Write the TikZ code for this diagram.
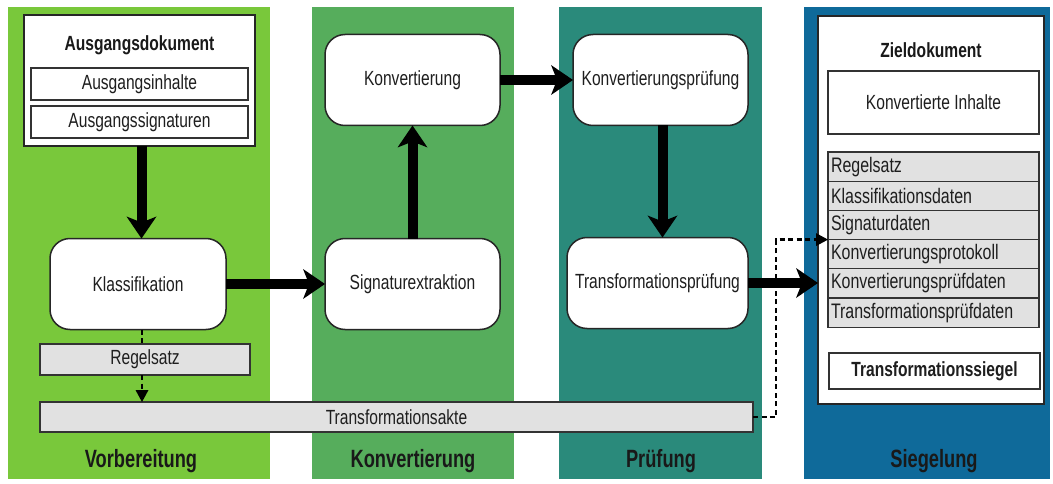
\documentclass[tikz,border=0pt]{standalone}
\usepackage{fontspec}
\setmainfont[FakeStretch=0.76]{Liberation Sans}
\newfontfamily\lanefont[FakeStretch=0.73]{Liberation Sans}
\usetikzlibrary{arrows.meta}

\definecolor{laneprep}{HTML}{79C83B}
\definecolor{laneconv}{HTML}{56AD5C}
\definecolor{lanecheck}{HTML}{2A8A7B}
\definecolor{laneseal}{HTML}{0F6A9A}
\definecolor{ink}{HTML}{1E1E1E}
\definecolor{greybox}{HTML}{E1E1E1}

\begin{document}
\begin{tikzpicture}[x=1pt,y=-1pt,
  lane/.style={inner sep=0pt, outer sep=0pt, anchor=north west, minimum height=472pt},
  lanelabel/.style={font=\lanefont\fontsize{25}{28}\selectfont\bfseries, text=black!90},
  docbox/.style={draw=black!85, line width=1.6pt, fill=white, inner sep=0pt, outer sep=0pt, anchor=north west},
  doctitle/.style={font=\fontsize{20.5}{23}\selectfont\bfseries, text=black!90},
  field/.style={draw=black!80, line width=1.2pt, fill=white, inner sep=0pt, outer sep=0pt,
    anchor=north west, font=\fontsize{20.5}{23}\selectfont, text=ink},
  greyfield/.style={field, fill=greybox},
  rowfield/.style={greyfield, minimum width=211pt, minimum height=29.2pt, text width=205pt,
    inner xsep=3pt, align=left, font=\fontsize{21}{23}\selectfont},
  stepbox/.style={draw=black!85, line width=1.5pt, fill=white, rounded corners=20pt,
    inner sep=0pt, outer sep=0pt, minimum height=91pt,
    font=\fontsize{20.5}{23}\selectfont, text=ink},
  bigarrow/.style={draw=black, line width=10pt,
    -{Stealth[length=22pt, width=30pt, inset=6pt, line width=0pt]}},
  dashline/.style={draw=black, line width=2.8pt, dash pattern=on 5pt off 3.5pt},
  dasharrow/.style={dashline, -{Triangle[length=12pt, width=13pt, line width=0pt]}}
]
\useasboundingbox (0,0) rectangle (1053,484);

% swim lanes
\node[lane, fill=laneprep,  minimum width=262pt] (lprep)  at (8,7)   {};
\node[lane, fill=laneconv,  minimum width=202pt] (lconv)  at (312,7) {};
\node[lane, fill=lanecheck, minimum width=203pt] (lcheck) at (559,7) {};
\node[lane, fill=laneseal,  minimum width=246pt] (lseal)  at (804,7) {};

\node[lanelabel] (tprep)  at (141,461) {Vorbereitung};
\node[lanelabel] (tconv)  at (413,461) {Konvertierung};
\node[lanelabel] (tcheck) at (661,461) {Prüfung};
\node[lanelabel] (tseal)  at (934,461) {Siegelung};

% source document
\node[docbox, minimum width=231pt, minimum height=131pt] (src) at (24,15) {};
\node[doctitle] (srctitle) at (139.5,45) {Ausgangsdokument};
\node[field, minimum width=217pt, minimum height=32pt] (srccontent) at (31,68) {Ausgangsinhalte};
\node[field, minimum width=217pt, minimum height=32pt] (srcsig) at (31,106) {Ausgangssignaturen};

% process steps
\node[stepbox, minimum width=176pt] (klass)  at (138,284)   {Klassifikation};
\node[stepbox, minimum width=175pt] (sig)    at (412.5,284) {Signaturextraktion};
\node[stepbox, minimum width=175pt] (konv)   at (412.5,80)  {Konvertierung};
\node[stepbox, minimum width=175pt] (kpruef) at (660.5,80)  {Konvertierungsprüfung};
\node[stepbox, minimum width=181pt] (tpruef) at (657.5,283) {Transformationsprüfung};

% records
\node[greyfield, minimum width=210pt, minimum height=31pt] (rules) at (40,344) {Regelsatz};
\node[greyfield, minimum width=713pt, minimum height=30pt] (akte)  at (40,402) {Transformationsakte};

% target document
\node[docbox, minimum width=226pt, minimum height=388pt] (target) at (818,16) {};
\node[doctitle] (targettitle) at (931,50) {Zieldokument};
\node[field, minimum width=211pt, minimum height=63pt] (converted) at (828,71) {Konvertierte Inhalte};
\node[rowfield] (r1) at (828,152)   {Regelsatz};
\node[rowfield] (r2) at (828,181.2) {Klassifikationsdaten};
\node[rowfield] (r3) at (828,210.4) {Signaturdaten};
\node[rowfield] (r4) at (828,239.6) {Konvertierungsprotokoll};
\node[rowfield] (r5) at (828,268.8) {Konvertierungsprüfdaten};
\node[rowfield] (r6) at (828,298)   {Transformationsprüfdaten};
\node[field, minimum width=211pt, minimum height=36pt, font=\fontsize{20.5}{23}\selectfont\bfseries] (seal) at (829,353) {Transformationssiegel};

% main flow
\draw[bigarrow] ([xshift=2pt]src.south) -- ([xshift=2pt]src.south |- klass.north);
\draw[bigarrow] (klass.east) -- (sig.west);
\draw[bigarrow] (sig.north) -- (konv.south);
\draw[bigarrow] (konv.east) -- (kpruef.west);
\draw[bigarrow] ([xshift=2pt]kpruef.south) -- ([xshift=2pt]kpruef.south |- tpruef.north);
\draw[bigarrow] (tpruef.east) -- (tpruef.east -| target.west);

% record flow
\draw[dashline] ([xshift=4pt]klass.south) -- ([xshift=4pt]klass.south |- rules.north);
\draw[dasharrow] ([xshift=4pt]klass.south |- rules.south) -- ([xshift=4pt]klass.south |- akte.north);
\draw[dasharrow] (akte.east) -| ([xshift=-52pt]r4.north west) -- (r4.north west);
\end{tikzpicture}
\end{document}
